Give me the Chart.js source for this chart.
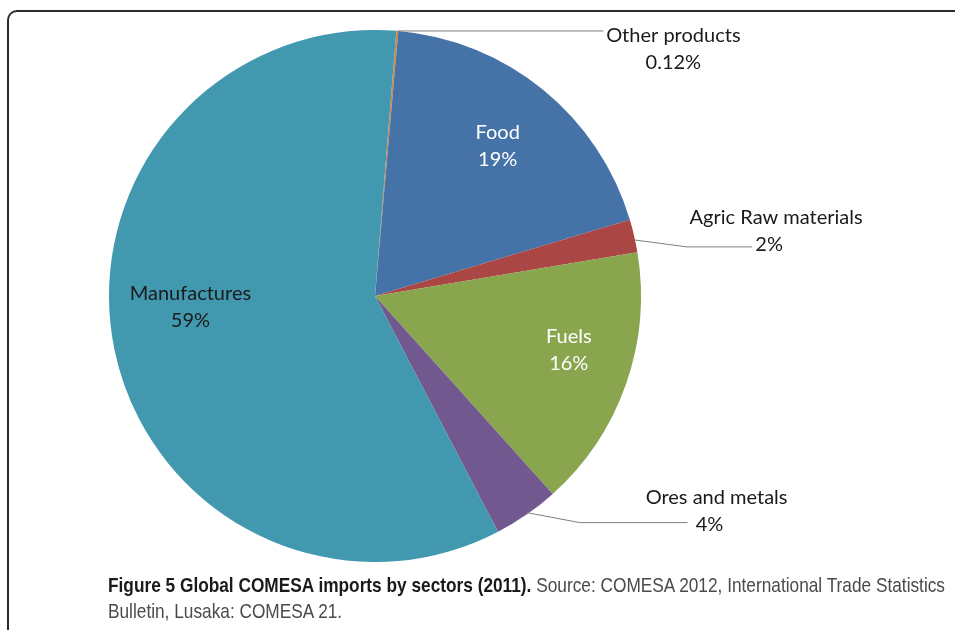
<!DOCTYPE html>
<html>
<head>
<meta charset="utf-8">
<script src="https://cdn.jsdelivr.net/npm/chart.js@4"></script>
<style>
  body { margin: 0; background: #fff; }
  #wrap { position: relative; width: 955px; height: 630px; overflow: hidden; }
  #frame {
    position: absolute; left: 7px; top: 10px; width: 1000px; height: 700px;
    border-left: 2px solid #2b2b2b; border-top: 2px solid #2b2b2b;
    border-top-left-radius: 10px;
  }
  #pieChart { position: absolute; left: 0; top: 0; }
  #caption {
    position: absolute; left: 108px; top: 572px;
    font-family: "Liberation Sans", sans-serif;
    font-size: 21px; line-height: 26px; color: #4a4a4a; white-space: nowrap;
    transform-origin: 0 0;
  }
  #caption b { color: #1a1a1a; }
</style>
</head>
<body>
<div id="wrap">
  <div id="frame"></div>
  <canvas id="pieChart" width="955" height="630"></canvas>
  <div id="caption"><span id="capLine"><b>Figure 5 Global COMESA imports by sectors (2011).</b> Source: COMESA 2012, International Trade Statistics</span><br>Bulletin, Lusaka: COMESA 21.</div>
</div>
<script>
// ---------------- DATA ----------------
const sectors = ['Other products', 'Food', 'Agric Raw materials', 'Fuels', 'Ores and metals', 'Manufactures'];
const shares = [0.12, 19, 2, 16, 4, 59];
const shareLabels = ['0.12%', '19%', '2%', '16%', '4%', '59%'];
const sliceColors = ['#DB843D', '#4572A7', '#AA4643', '#89A54E', '#71588F', '#4198AF'];

// labels inside the slice or pulled out with a leader line
const labelInside = [false, true, false, true, false, true];

// squeeze the caption so the first line fits like the condensed print font
const capLine = document.getElementById('capLine');
const capScale = 837 / capLine.getBoundingClientRect().width;
document.getElementById('caption').style.transform = 'scaleX(' + capScale + ')';

// draws the Excel style data labels
const pieLabels = {
    id: 'pieLabels',
    afterDatasetsDraw(chart) {
        const ctx = chart.ctx;
        const arcs = chart.getDatasetMeta(0).data;
        ctx.save();
        ctx.font = '20px Lato, sans-serif';
        ctx.textAlign = 'center';
        ctx.textBaseline = 'middle';
        arcs.forEach((arc, i) => {
            const p = arc.getProps(['x', 'y', 'startAngle', 'endAngle', 'outerRadius'], true);
            const mid = (p.startAngle + p.endAngle) / 2;
            const r = p.outerRadius;
            if (labelInside[i]) {
                let f = 0.73, a = mid;
                if (i === 5) { f = 0.695; a = mid + 0.144; }
                if (i === 3) { f = 0.756; a = mid - 0.066; }
                const lx = p.x + Math.cos(a) * r * f;
                const ly = p.y + Math.sin(a) * r * f;
                ctx.fillStyle = i === 5 ? '#1a1a1a' : '#ffffff';
                ctx.fillText(sectors[i], lx, ly - 13);
                ctx.fillText(shareLabels[i], lx, ly + 14);
            } else {
                const ex = p.x + Math.cos(mid) * r;
                const ey = p.y + Math.sin(mid) * r;
                ctx.strokeStyle = '#7f7f7f';
                ctx.lineWidth = 1;
                ctx.beginPath();
                let tx, ty;
                if (i === 0) {
                    ctx.moveTo(ex, ey);
                    ctx.lineTo(ex + 206, ey);
                    tx = ex + 276; ty = ey + 5;
                } else if (i === 2) {
                    ctx.moveTo(ex, ey + 4);
                    ctx.lineTo(ex + 53, ey + 11);
                    ctx.lineTo(ex + 118, ey + 11);
                    tx = ex + 142; ty = ey - 18;
                } else {
                    ctx.moveTo(ex, ey - 2);
                    ctx.lineTo(ex + 53, ey + 8);
                    ctx.lineTo(ex + 161, ey + 8);
                    tx = ex + 190; ty = ey - 17;
                }
                ctx.stroke();
                ctx.fillStyle = '#1a1a1a';
                ctx.fillText(sectors[i], tx, ty);
                ctx.fillText(shareLabels[i], i === 0 ? tx : tx - 7, ty + 27);
            }
        });
        ctx.restore();
    }
};

new Chart(document.getElementById('pieChart'), {
    type: 'pie',
    data: {
        labels: sectors,
        datasets: [{
            data: shares,
            backgroundColor: sliceColors,
            borderWidth: 0
        }]
    },
    options: {
        responsive: false,
        animation: false,
        rotation: 4.6,
        layout: { padding: { left: 109, right: 314, top: 30, bottom: 68 } },
        plugins: {
            legend: { display: false },
            tooltip: { enabled: false }
        }
    },
    plugins: [pieLabels]
});
</script>
</body>
</html>
